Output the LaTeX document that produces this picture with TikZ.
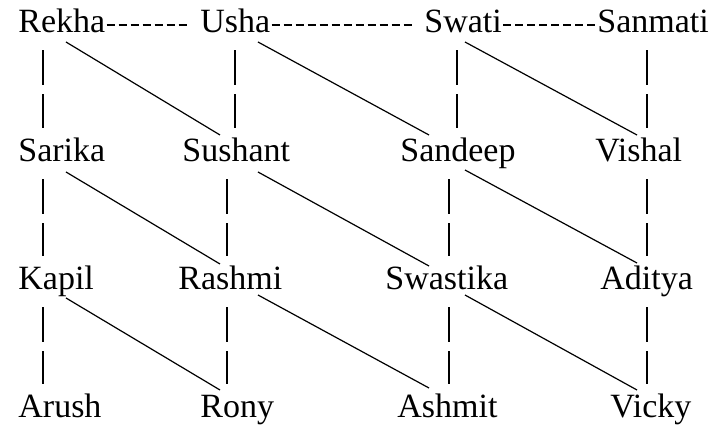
\documentclass[tikz,border=0pt]{standalone}
\usepackage{fontspec}
\setmainfont{Liberation Serif}
\usepackage{tikz}
\usetikzlibrary{positioning,calc}

\begin{document}
\begin{tikzpicture}[x=0.5pt, y=-0.5pt,
  person/.style={inner sep=0pt, anchor=base west, text height=17pt, text depth=8.5pt, font=\fontsize{17pt}{20pt}\selectfont},
  hyph/.style={line width=0.8pt, dash pattern=on 4pt off 2pt},
  vline/.style={line width=0.9pt, dash pattern=on 17.5pt off 4.5pt},
  diag/.style={line width=0.6pt}]
\useasboundingbox (0,0) rectangle (724,427);
% column guides
\coordinate (v1) at (43,0);
\coordinate (v2a) at (235,0);
\coordinate (v2b) at (227,0);
\coordinate (v3a) at (457,0);
\coordinate (v3b) at (449,0);
\coordinate (v4) at (647,0);
\coordinate (ds1) at (66,0);
\coordinate (ds2) at (258,0);
\coordinate (ds3) at (465,0);
\coordinate (de1) at (220,0);
\coordinate (de2) at (429,0);
\coordinate (de3) at (637,0);
% names
\node[person] (rekha) at (18,33) {Rekha};
\node[person] (usha) at (200,33) {Usha};
\node[person] (swati) at (424,33) {Swati};
\node[person] (sanmati) at (597,33) {Sanmati};
\node[person] (sarika) at (18,162) {Sarika};
\node[person] (sushant) at (182,162) {Sushant};
\node[person] (sandeep) at (400,162) {Sandeep};
\node[person] (vishal) at (595,162) {Vishal};
\node[person] (kapil) at (18,290) {Kapil};
\node[person] (rashmi) at (178,290) {Rashmi};
\node[person] (swastika) at (385,290) {Swastika};
\node[person] (aditya) at (600,290) {Aditya};
\node[person] (arush) at (18,418) {Arush};
\node[person] (rony) at (200,418) {Rony};
\node[person] (ashmit) at (397,418) {Ashmit};
\node[person] (vicky) at (610,418) {Vicky};
% dashes along the top row
\draw[hyph] ($(rekha.base east)+(1,-8)$) -- ($(usha.base west)+(-12,-8)$);
\draw[hyph] ($(usha.base east)+(1,-8)$) -- ($(swati.base west)+(-11,-8)$);
\draw[hyph] ($(swati.base east)+(1,-8)$) -- ($(sanmati.base west)+(0,-8)$);
% vertical links
\draw[vline] (rekha.south -| v1) -- (sarika.north -| v1);
\draw[vline] (sarika.south -| v1) -- (kapil.north -| v1);
\draw[vline] (kapil.south -| v1) -- (arush.north -| v1);
\draw[vline] (usha.south -| v2a) -- (sushant.north -| v2a);
\draw[vline] (sushant.south -| v2b) -- (rashmi.north -| v2b);
\draw[vline] (rashmi.south -| v2b) -- (rony.north -| v2b);
\draw[vline] (swati.south -| v3a) -- (sandeep.north -| v3a);
\draw[vline] (sandeep.south -| v3b) -- (swastika.north -| v3b);
\draw[vline] (swastika.south -| v3b) -- (ashmit.north -| v3b);
\draw[vline] (sanmati.south -| v4) -- (vishal.north -| v4);
\draw[vline] (vishal.south -| v4) -- (aditya.north -| v4);
\draw[vline] (aditya.south -| v4) -- (vicky.north -| v4);
% diagonal links
\draw[diag] ($(rekha.base -| ds1)+(0,9)$) -- ($(sushant.base -| de1)+(0,-27)$);
\draw[diag] ($(usha.base -| ds2)+(0,9)$) -- ($(sandeep.base -| de2)+(0,-27)$);
\draw[diag] ($(swati.base -| ds3)+(0,9)$) -- ($(vishal.base -| de3)+(0,-27)$);
\draw[diag] ($(sarika.base -| ds1)+(0,10)$) -- ($(rashmi.base -| de1)+(0,-26)$);
\draw[diag] ($(sushant.base -| ds2)+(0,10)$) -- ($(swastika.base -| de2)+(0,-24)$);
\draw[diag] ($(sandeep.base -| ds3)+(0,8)$) -- ($(aditya.base -| de3)+(0,-27)$);
\draw[diag] ($(kapil.base -| ds1)+(0,8)$) -- ($(rony.base -| de1)+(0,-28)$);
\draw[diag] ($(rashmi.base -| ds2)+(0,5)$) -- ($(ashmit.base -| de2)+(0,-30)$);
\draw[diag] ($(swastika.base -| ds3)+(0,5)$) -- ($(vicky.base -| de3)+(0,-28)$);
\end{tikzpicture}
\end{document}
